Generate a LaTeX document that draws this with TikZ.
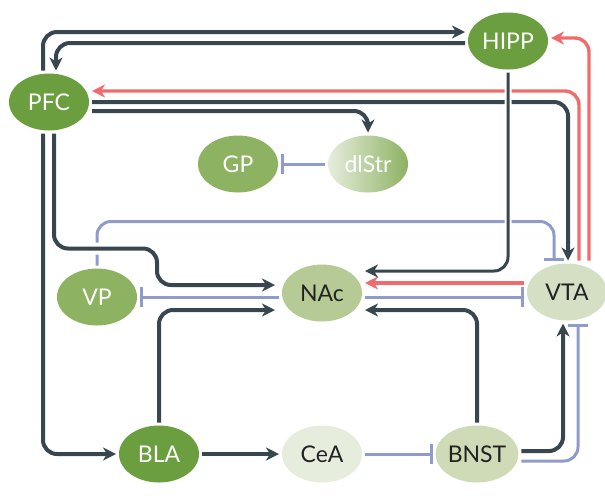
\documentclass[tikz,border=0pt]{standalone}
\usepackage{fontspec}
\setmainfont{Lato}
\usepackage{tikz}
\usetikzlibrary{arrows.meta,shapes.geometric}
\definecolor{slate}{HTML}{38474F}
\definecolor{coral}{HTML}{F06C6C}
\definecolor{lilac}{HTML}{8F9CCB}
\definecolor{leafdark}{HTML}{6B9E3E}
\definecolor{leafmid}{HTML}{8DB262}
\definecolor{leaflight}{HTML}{B6CA96}
\definecolor{leafpale}{HTML}{D4DFC3}
\definecolor{leafbnst}{HTML}{CEDBB6}
\definecolor{leafcream}{HTML}{E7EDDD}
\definecolor{inktext}{HTML}{222222}

\begin{document}
\begin{tikzpicture}[
  x=0.5pt, y=-0.5pt,
  font=\fontsize{11.5}{13}\selectfont,
  region/.style={ellipse, minimum width=40pt, minimum height=28.5pt, inner sep=0pt, outer sep=1.5pt},
  greendeep/.style={region, fill=leafdark, text=white},
  greenmid/.style={region, fill=leafmid, text=white},
  soft/.style={region, fill=#1, text=inktext},
  exc/.style={-{Stealth[length=6.5pt, width=6.5pt, inset=2pt]}, line width=2pt, slate, rounded corners=7pt},
  dopa/.style={-{Stealth[length=6.5pt, width=6.5pt, inset=2pt]}, line width=1.7pt, coral, rounded corners=7pt},
  inh/.style={-{Bar[width=10pt]}, line width=1.5pt, lilac, rounded corners=7pt},
  halo/.style={preaction={draw=white, line width=#1, -}}
]
\useasboundingbox (0,0) rectangle (605,500);
% cortex and hippocampus
\node[greendeep] (hipp) at (508,41) {HIPP};
\node[greendeep] (pfc)  at (49,102) {PFC};
% dorsal striatum loop
\node[greenmid] (gp) at (238,164) {GP};
\node[region, left color=leafcream, right color=leafmid, text=white] (dlstr) at (368,164) {dlStr};
% middle row
\node[greenmid]       (vp)  at (97,297)  {VP};
\node[soft=leaflight] (nac) at (322,293) {NAc};
\node[soft=leafpale]  (vta) at (567,292) {VTA};
% amygdala row
\node[greendeep]       (bla)  at (159,454) {BLA};
\node[soft=leafcream]  (cea)  at (322,454) {CeA};
\node[soft=leafbnst]   (bnst) at (477,454) {BNST};

% top loop
\draw[exc] ([xshift=-3pt]pfc.north) |- ([yshift=4.5pt]hipp.west);
\draw[exc] ([yshift=-1pt]hipp.west) -| ([xshift=3.5pt]pfc.north);
% dopamine outputs
\draw[dopa] ([xshift=6pt]vta.north) |- ([yshift=5.5pt]pfc.east);
\draw[dopa] ([xshift=11pt]vta.north) |- ([yshift=1.5pt]hipp.east);
\draw[dopa] ([yshift=4.5pt]vta.west) -- ([yshift=5pt]nac.east);
% PFC outputs
\draw[exc] (pfc.east) -| ([xshift=0.5pt]vta.north);
\draw[exc] ([yshift=-4.5pt]pfc.east) -| (dlstr.north);
\draw[exc] ([xshift=-3pt]pfc.south) |- (bla.west);
% inhibitory links
\draw[inh] (dlstr.west) -- (gp.east);
\draw[inh] (vp.north) -- ++(0,-44) -| ([xshift=-6.5pt]vta.north);
\draw[inh] ([yshift=-2pt]nac.west) -- (vp.east);
\draw[inh] ([yshift=-2pt]nac.east) -- ([yshift=-2.5pt]vta.west);
\draw[inh] (cea.east) -- (bnst.west);
\draw[inh] ([yshift=-3.5pt]bnst.east) -| ([xshift=5.5pt]vta.south);
% amygdala outputs
\draw[exc] (bla.east) -- (cea.west);
\draw[exc] (bla.north) |- ([xshift=-2pt,yshift=-8.5pt]nac.west);
\draw[exc] (bnst.north) |- ([yshift=-8.5pt]nac.east);
\draw[exc] ([yshift=1.5pt]bnst.east) -| ([xshift=-2pt]vta.south);
% crossing paths, drawn last
\draw[exc, halo=3.5pt, line width=1.5pt] (hipp.south) |- ([yshift=11pt]nac.east);
\draw[exc, halo=6pt] ([xshift=2.5pt]pfc.south) -- ++(0,115) -- ++(103,0) |- ([xshift=-2pt,yshift=4pt]nac.west);
\end{tikzpicture}
\end{document}
